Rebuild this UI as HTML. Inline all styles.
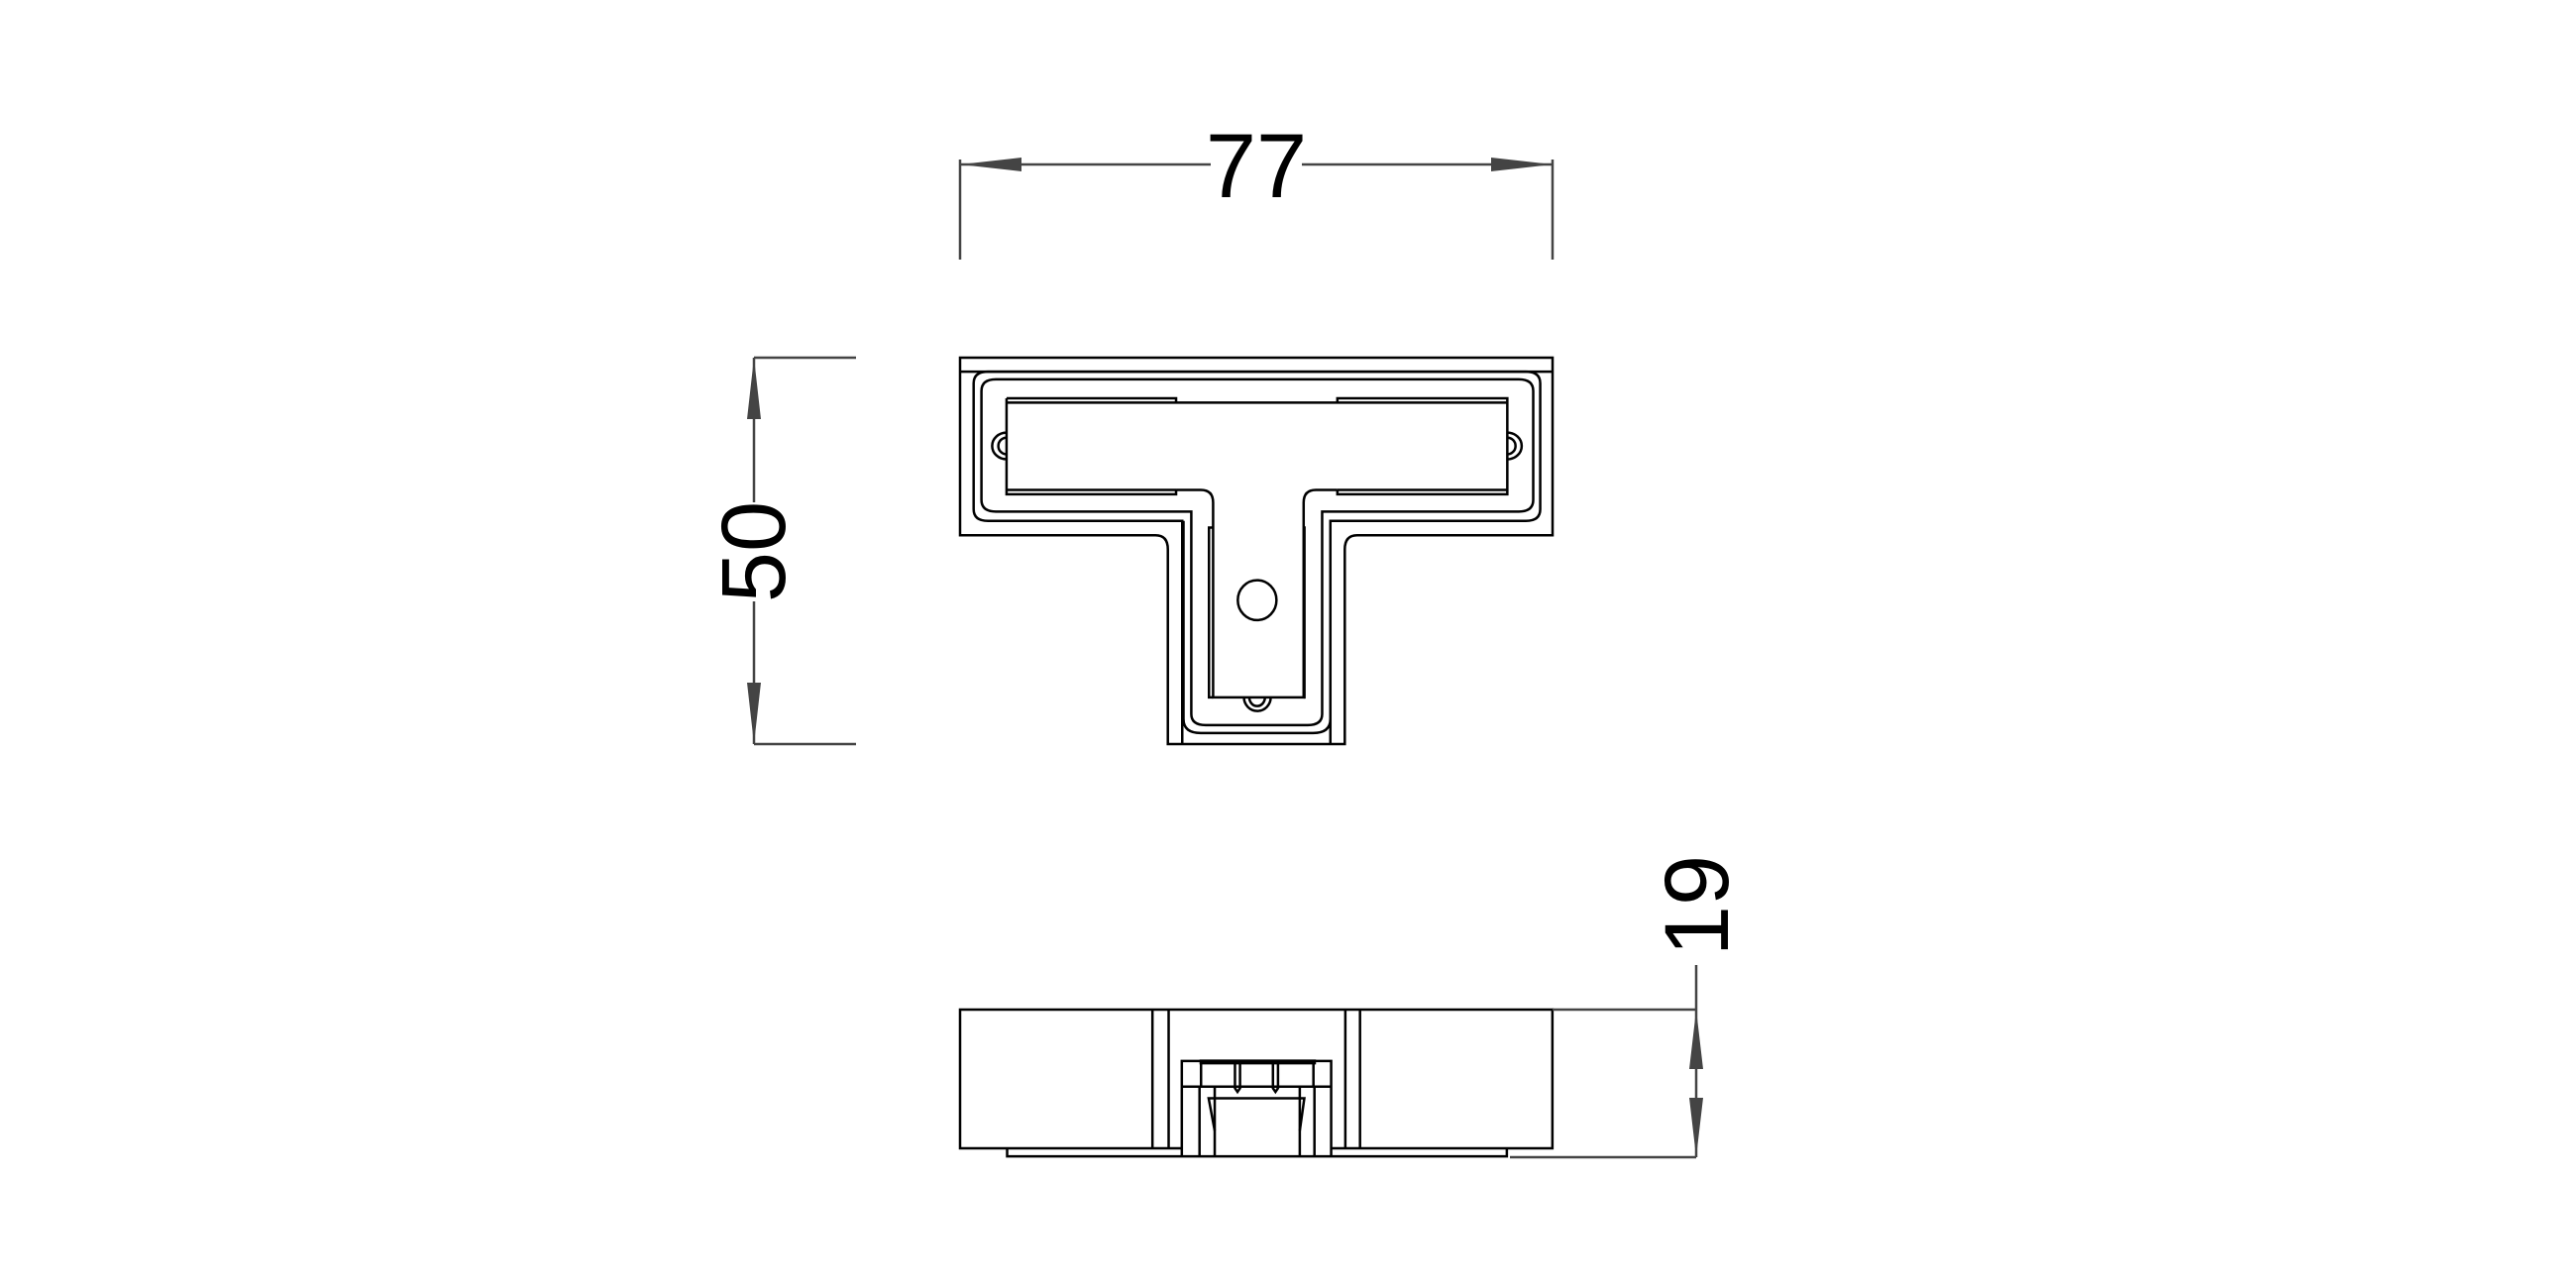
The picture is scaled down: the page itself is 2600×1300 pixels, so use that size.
<!DOCTYPE html>
<html><head><meta charset="utf-8"><style>html,body{margin:0;padding:0;background:#fff}svg{display:block}</style></head>
<body>
<svg width="2600" height="1300" viewBox="0 0 2600 1300" xmlns="http://www.w3.org/2000/svg">
<g transform="translate(-6,-1)">
<g fill="none" stroke="#000" stroke-width="2.5">
<!-- TOP VIEW -->
<g transform="translate(975,362) scale(0.4153,0.3362) translate(-45,-65)">
<path vector-effect="non-scaling-stroke" d="M45,65 H1485 V598 H1010 Q980,598 980,640 V1225 H550 V640 Q550,598 520,598 H45 Z"/>
<path vector-effect="non-scaling-stroke" d="M45,107 H1485"/>
<path vector-effect="non-scaling-stroke" d="M585,1225 V555 H113 Q78,555 78,520 V142 Q78,107 113,107 H1420 Q1455,107 1455,142 V520 Q1455,555 1420,555 H945 V1225"/>
<path vector-effect="non-scaling-stroke" d="M132,130 H1403 Q1438,130 1438,165 V492 Q1438,527 1403,527 H925 V1135 Q925,1168 890,1168 H642 Q607,1168 607,1135 V527 H132 Q97,527 97,492 V165 Q97,130 132,130 Z"/>
<path vector-effect="non-scaling-stroke" d="M588,555 V1150 Q588,1192 630,1192 H903 Q945,1192 945,1150"/>
<path vector-effect="non-scaling-stroke" d="M158,187 H570 V200 M962,200 V187 H1375 V475 H962 V462 M158,187 V475 H570 V462"/>
<path vector-effect="non-scaling-stroke" d="M158,200 H1375 M158,462 H570 M962,462 H1375"/>
<path vector-effect="non-scaling-stroke" d="M570,462 H630 Q660,462 660,500 V1085 H880 V500 Q880,462 910,462 H962"/>
<path vector-effect="non-scaling-stroke" d="M660,575 H650 V1085 H660 M880,575 H882 V1085 H880"/>
<path vector-effect="non-scaling-stroke" d="M158,290 A35,40 0 0 0 158,370 M158,305 A20,25 0 0 0 158,355"/>
<path vector-effect="non-scaling-stroke" d="M1375,290 A35,40 0 0 1 1375,370 M1375,305 A20,25 0 0 1 1375,355"/>
<ellipse vector-effect="non-scaling-stroke" cx="767" cy="793" rx="47" ry="60"/>
<path vector-effect="non-scaling-stroke" d="M735,1085 A32,40 0 0 0 800,1085 M748,1085 A19,26 0 0 0 786,1085"/>
</g>
<!-- SIDE VIEW -->
<g transform="translate(975,1020) scale(0.511,0.335) translate(-37,-55)">
<path vector-effect="non-scaling-stroke" d="M475,473 H37 V55 H1207 V473 H770"/>
<path vector-effect="non-scaling-stroke" d="M417,55 V473 M449,55 V473 M798,55 V473 M827,55 V473"/>
<path vector-effect="non-scaling-stroke" d="M475,497 V210 H770 V497 M475,287 H770 M513,210 V287 M735,210 V287"/>
<path vector-effect="non-scaling-stroke" stroke-width="5" d="M510,213 H740"/>
<path vector-effect="non-scaling-stroke" d="M580,213 V292 L585,303 L590,292 V213 M655,213 V292 L660,303 L665,292 V213"/>
<path vector-effect="non-scaling-stroke" d="M510,287 V497 M540,287 V497 M708,287 V497 M737,287 V497"/>
<path vector-effect="non-scaling-stroke" d="M540,420 L528,322 H717 L708,420"/>
<path vector-effect="non-scaling-stroke" d="M130,473 V497 H1117 V473"/>
</g>
</g>
<!-- DIMENSIONS -->
<g stroke="#444" stroke-width="2.5" fill="none">
<path d="M975,162 V263 M1573,162 V263 M975,167 H1228 M1320,167 H1573"/>
<path d="M767,362 H870 M767,752 H870 M767,362 V508 M767,608 V752"/>
<path d="M1573,1020 H1718 M1530,1169 H1718 M1718,975 V1169"/>
</g>
<g fill="#444">
<path d="M975,167 L1037,160 L1037,174 Z M1573,167 L1511,160 L1511,174 Z"/>
<path d="M767,362 L760,424 L774,424 Z M767,752 L760,690 L774,690 Z"/>
<path d="M1718,1020 L1711,1080 L1725,1080 Z M1718,1169 L1711,1109 L1725,1109 Z"/>
</g>
<g font-family="Liberation Sans, sans-serif" font-size="92" fill="#000" text-anchor="middle">
<text x="1274" y="200">77</text>
<text transform="translate(798,558) rotate(-90)">50</text>
<text transform="translate(1750,915) rotate(-90)">19</text>
</g>
</g>
</svg>
</body></html>
